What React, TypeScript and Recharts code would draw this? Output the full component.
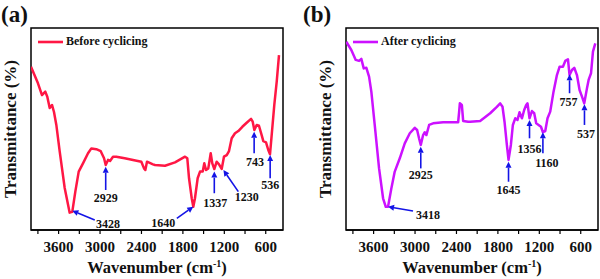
import {
  LineChart,
  Line,
  XAxis,
  YAxis,
  Legend,
  ReferenceArea,
  ReferenceLine,
  ReferenceDot,
} from "recharts";

const FONT = '"Liberation Serif", "Times New Roman", serif';

// wavenumber ticks (labels only every 600)
const tickValues = [3900, 3600, 3300, 3000, 2700, 2400, 2100, 1800, 1500, 1200, 900, 600];

// (a) before cycling
const beforeWavenumber = [
  4000, 3899, 3841, 3793, 3764, 3729, 3696, 3667, 3633, 3584, 3512, 3440, 3402, 3358, 3309,
  3247, 3174, 3126, 3054, 2990, 2942, 2918, 2884, 2855, 2812, 2764, 2643, 2402, 2363, 2344,
  2320, 2233, 2204, 2059, 1914, 1769, 1736, 1711, 1672, 1649, 1625, 1586, 1552, 1513, 1490,
  1465, 1432, 1397, 1374, 1345, 1310, 1277, 1238, 1205, 1165, 1132, 1093, 1045, 997, 939,
  876, 813, 789, 765, 731, 698, 659, 635, 596, 563, 538, 514, 476, 441, 408,
];
const beforeTransmittance = [
  80.8, 72.6, 66.8, 68.5, 66, 60.4, 61.9, 58.4, 52, 38.8, 20.8, 8.6, 9, 19, 28.9,
  33, 38, 40.4, 40, 39, 35.5, 32.2, 34.7, 34.2, 36.3, 36.3, 35.5, 33.8, 30.5, 29.7,
  33.8, 32.5, 32.2, 31.8, 33.5, 36.3, 35.5, 25.6, 15.7, 11.5, 15.7, 25.6, 28.9, 28.9, 33,
  29.7, 30.5, 38, 33, 30.2, 33.8, 32.5, 30.2, 36.3, 37.1, 39.1, 45.4, 47.9, 49, 51.1,
  53.1, 55, 53.6, 49.5, 52, 51.6, 47, 44, 43.4, 39.6, 37.5, 47, 61.9, 73.4, 86.6,
];

// (b) after cycling
const afterWavenumber = [
  3996, 3923, 3859, 3811, 3778, 3743, 3705, 3666, 3633, 3584, 3521, 3463, 3424, 3391, 3343,
  3294, 3221, 3149, 3076, 3004, 2970, 2942, 2917, 2883, 2859, 2836, 2796, 2738, 2593, 2376,
  2361, 2351, 2322, 2303, 2231, 2202, 2057, 1912, 1815, 1767, 1733, 1704, 1670, 1646, 1612,
  1583, 1549, 1516, 1487, 1452, 1419, 1390, 1371, 1342, 1307, 1274, 1245, 1211, 1176, 1148,
  1114, 1081, 1042, 994, 945, 907, 858, 824, 785, 762, 727, 694, 655, 617, 582,
  549, 510, 486, 451, 423, 389,
];
const afterTransmittance = [
  93.2, 89.1, 84.2, 83.7, 84.7, 80, 80.3, 75.9, 68.5, 52, 30.5, 15.7, 11.5, 11.5, 20.6,
  28.9, 35.5, 42.9, 47.9, 50.6, 49.5, 45.4, 42.1, 47, 48.4, 47, 52, 52.8, 53.3, 53.3,
  58.6, 62.7, 61.9, 54, 53.6, 53.6, 54, 57.8, 61, 62.7, 61, 53.6, 42.1, 34.7, 42.1,
  52, 55.3, 54.5, 58.3, 55.3, 59.4, 61.9, 62.7, 55.3, 58.9, 57.8, 52.8, 52, 51.1, 48.4,
  49, 55.3, 58.6, 68.5, 76.7, 80.8, 80.8, 83.7, 84.5, 76.7, 79.2, 80.3, 76.7, 69.3, 66,
  62.7, 70.1, 74.3, 77.6, 88.3, 92.4,
];

// peak annotations: label, arrow tail, arrow tip, label anchor (data units)
const beforePeakLabels = ["3428", "2929", "1640", "1337", "1230", "743", "536"];
const beforeTail = [[3077, 5], [2918, 19.8], [1888, 5.8], [1345, 18.2], [997, 19], [768, 38], [536, 25.6]];
const beforeTip = [[3402, 9.5], [2918, 31.3], [1649, 11.5], [1345, 28.9], [1213, 29.7], [768, 48.7], [536, 37.1]];
const beforeText = [[2884, 3.3], [2918, 15.8], [2083, 3.8], [1330, 13.7], [874, 16.5], [754, 33.8], [536, 22.3]];

const afterPeakLabels = ["3418", "2925", "1645", "1356", "1160", "757", "537"];
const afterTail = [[3029, 9.4], [2917, 30.5], [1646, 23.9], [1342, 45.4], [1148, 38], [762, 67.7], [546, 52]];
const afterTip = [[3391, 11.5], [2917, 41.2], [1646, 33.8], [1342, 54.5], [1148, 48.4], [762, 77.1], [546, 62.2]];
const afterText = [[2811, 7.4], [2917, 27.2], [1646, 19.8], [1342, 40.4], [1090, 33.5], [776, 63.5], [525, 47.9]];

const ARROW = "#1414e6";

const arrowShape = (props: any) => {
  const { x1, y1, x2, y2 } = props;
  const dx = x2 - x1;
  const dy = y2 - y1;
  const len = Math.hypot(dx, dy) || 1;
  const ux = dx / len;
  const uy = dy / len;
  const head = 6;
  const half = 3;
  const bx = x2 - ux * head;
  const by = y2 - uy * head;
  const pts = `${x2},${y2} ${bx - uy * half},${by + ux * half} ${bx + uy * half},${by - ux * half}`;
  return (
    <g>
      <line x1={x1} y1={y1} x2={bx} y2={by} stroke={ARROW} strokeWidth={1.6} />
      <polygon points={pts} fill={ARROW} />
    </g>
  );
};

const xTitle = (props: any) => {
  const vb = props.viewBox;
  return (
    <text
      x={vb.x + vb.width / 2}
      y={vb.y + 43}
      textAnchor="middle"
      fontFamily={FONT}
      fontWeight="bold"
      fontSize={16.5}
      fill="#111"
    >
      Wavenumber (cm
      <tspan dy={-6} fontSize={10}>-1</tspan>
      <tspan dy={6}>)</tspan>
    </text>
  );
};

const yTitle = (props: any) => {
  const vb = props.viewBox;
  const x = vb.x - 20;
  const y = vb.y + vb.height / 2;
  return (
    <text
      x={x}
      y={y}
      transform={`rotate(-90, ${x}, ${y})`}
      textAnchor="middle"
      dominantBaseline="central"
      fontFamily={FONT}
      fontWeight="bold"
      fontSize={17}
      fill="#111"
    >
      Transmittance (%)
    </text>
  );
};

type PanelProps = {
  wavenumber: number[];
  transmittance: number[];
  color: string;
  name: string;
  labels: string[];
  tails: number[][];
  tips: number[][];
  texts: number[][];
  marginLeft: number;
  marginRight: number;
  legendLeft: number;
};

const Panel = (p: PanelProps) => {
  const data = p.wavenumber.map((w, i) => ({ w, t: p.transmittance[i] }));
  return (
    <LineChart
      width={300}
      height={279}
      data={data}
      margin={{ top: 28, right: p.marginRight, left: p.marginLeft, bottom: 0 }}
    >
      <XAxis
        dataKey="w"
        type="number"
        domain={[350, 4000]}
        reversed
        allowDataOverflow
        ticks={tickValues}
        tickFormatter={(v: number) => (v % 600 === 0 ? String(v) : "")}
        height={49}
        tickSize={4}
        tickMargin={7}
        interval={0}
        axisLine={{ stroke: "#000", strokeWidth: 1.5 }}
        tickLine={{ stroke: "#000", strokeWidth: 1.2 }}
        tick={{ fill: "#111", fontFamily: FONT, fontWeight: "bold", fontSize: 15 }}
        label={xTitle}
      />
      <YAxis
        type="number"
        domain={[0, 100]}
        width={1}
        tick={false}
        tickLine={false}
        axisLine={false}
        label={yTitle}
      />
      <Legend
        layout="vertical"
        align="center"
        verticalAlign="middle"
        wrapperStyle={{ left: p.legendLeft, top: 34, width: "auto", height: "auto" }}
        content={() => (
          <div style={{ display: "flex", alignItems: "center", fontFamily: FONT, fontWeight: "bold", fontSize: 12, color: "#111" }}>
            <svg width={28} height={10}>
              <line x1={0} y1={5} x2={25} y2={5} stroke={p.color} strokeWidth={2.6} />
            </svg>
            <span>{p.name}</span>
          </div>
        )}
      />
      <Line
        dataKey="t"
        stroke={p.color}
        strokeWidth={2.5}
        dot={false}
        isAnimationActive={false}
        strokeLinejoin="round"
      />
      {p.labels.map((lab, i) => (
        <ReferenceLine
          key={`arrow-${lab}`}
          segment={[
            { x: p.tails[i][0], y: p.tails[i][1] },
            { x: p.tips[i][0], y: p.tips[i][1] },
          ]}
          shape={arrowShape}
        />
      ))}
      {p.labels.map((lab, i) => (
        <ReferenceDot
          key={`text-${lab}`}
          x={p.texts[i][0]}
          y={p.texts[i][1]}
          r={0}
          fill="none"
          stroke="none"
          label={{
            value: lab,
            position: "center",
            fill: "#111",
            fontSize: 12,
            fontWeight: "bold",
            fontFamily: FONT,
          }}
        />
      ))}
      <ReferenceArea
        x1={350}
        x2={4000}
        y1={0}
        y2={100}
        fill="none"
        fillOpacity={0}
        stroke="#000"
        strokeWidth={1.5}
      />
    </LineChart>
  );
};

const panelLabel = (left: number): React.CSSProperties => ({
  position: "absolute",
  left,
  top: 3,
  lineHeight: "24px",
  fontFamily: FONT,
  fontWeight: "bold",
  fontSize: 23,
  color: "#111",
});

export default function App() {
  return (
    <div style={{ position: "absolute", left: 0, top: 0, width: 600, height: 279, background: "#fff" }}>
      <div style={{ position: "absolute", left: 0, top: 0 }}>
        <Panel
          wavenumber={beforeWavenumber}
          transmittance={beforeTransmittance}
          color="#ff1744"
          name="Before cyclicing"
          labels={beforePeakLabels}
          tails={beforeTail}
          tips={beforeTip}
          texts={beforeText}
          marginLeft={30}
          marginRight={17}
          legendLeft={38}
        />
      </div>
      <div style={{ position: "absolute", left: 300, top: 0 }}>
        <Panel
          wavenumber={afterWavenumber}
          transmittance={afterTransmittance}
          color="#cc11ff"
          name="After cyclicing"
          labels={afterPeakLabels}
          tails={afterTail}
          tips={afterTip}
          texts={afterText}
          marginLeft={45}
          marginRight={2}
          legendLeft={53}
        />
      </div>
      <div style={panelLabel(1)}>(a)</div>
      <div style={panelLabel(303)}>(b)</div>
    </div>
  );
}
